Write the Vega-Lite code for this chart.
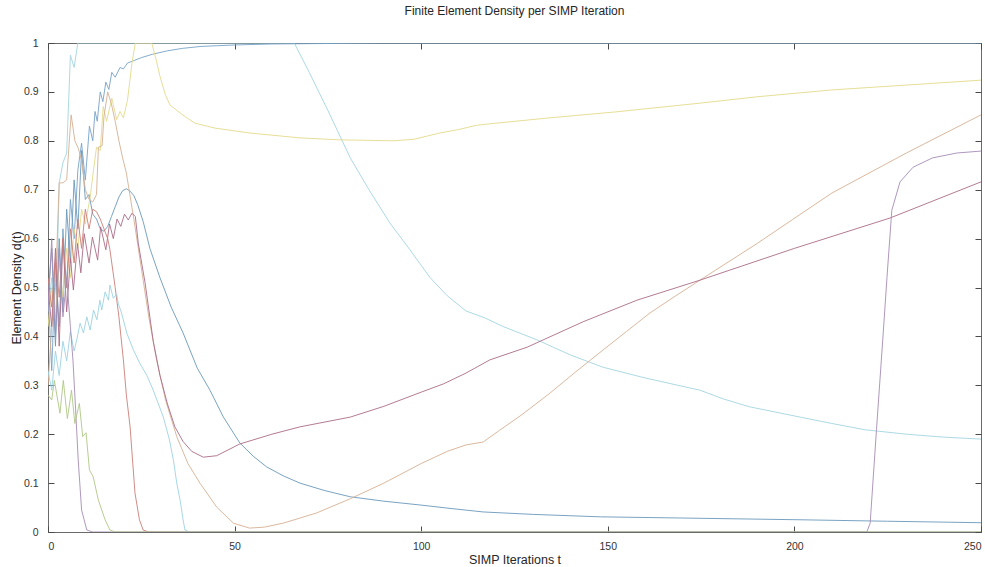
{
  "$schema": "https://vega.github.io/schema/vega-lite/v6.json",
  "width": 933,
  "height": 489,
  "autosize": "none",
  "padding": {"left": 48, "top": 43, "right": 4, "bottom": 35},
  "background": "white",
  "config": {
    "font": "Liberation Sans",
    "view": {"stroke": "#6a6a6a", "strokeWidth": 1},
    "axis": {
      "domain": false,
      "offset": -6,
      "ticks": true,
      "tickSize": 6,
      "tickWidth": 1,
      "tickColor": "#4a4a4a",
      "tickOpacity": 1,
      "zindex": 1,
      "labelColor": "#333333",
      "titleColor": "#262626",
      "labelFont": "Liberation Sans",
      "titleFont": "Liberation Sans",
      "labelFontSize": 10.5,
      "titleFontSize": 12.5,
      "titleFontWeight": "normal",
      "grid": false
    }
  },
  "title": {
    "text": "Finite Element Density per SIMP Iteration",
    "fontSize": 12,
    "fontWeight": "normal",
    "color": "#262626",
    "font": "Liberation Sans",
    "anchor": "middle",
    "offset": 20
  },
  "data": {
    "values": [
      {"e":"E1","t":0,"d":0.45},{"e":"E1","t":1,"d":0.52},{"e":"E1","t":2,"d":0.4},{"e":"E1","t":3,"d":0.714},{"e":"E1","t":4,"d":0.755},{"e":"E1","t":5,"d":0.775},{"e":"E1","t":6,"d":0.975},{"e":"E1","t":7,"d":0.95},{"e":"E1","t":8,"d":1.0},{"e":"E1","t":66,"d":1.0},{"e":"E1","t":70,"d":0.94},{"e":"E1","t":75,"d":0.862},{"e":"E1","t":81,"d":0.765},{"e":"E1","t":86,"d":0.7},{"e":"E1","t":91.6,"d":0.632},{"e":"E1","t":97,"d":0.577},{"e":"E1","t":102.4,"d":0.52},{"e":"E1","t":107,"d":0.483},{"e":"E1","t":112,"d":0.452},{"e":"E1","t":117,"d":0.438},{"e":"E1","t":122,"d":0.42},{"e":"E1","t":131,"d":0.393},{"e":"E1","t":140,"d":0.362},{"e":"E1","t":148.7,"d":0.337},{"e":"E1","t":160,"d":0.315},{"e":"E1","t":174.7,"d":0.29},{"e":"E1","t":181,"d":0.272},{"e":"E1","t":188,"d":0.256},{"e":"E1","t":201.5,"d":0.235},{"e":"E1","t":210,"d":0.222},{"e":"E1","t":219,"d":0.209},{"e":"E1","t":230,"d":0.2},{"e":"E1","t":240,"d":0.194},{"e":"E1","t":250,"d":0.19},

      {"e":"E2","t":0,"d":0.5},{"e":"E2","t":1,"d":0.33},{"e":"E2","t":2,"d":0.55},{"e":"E2","t":3,"d":0.42},{"e":"E2","t":4,"d":0.62},{"e":"E2","t":5,"d":0.5},{"e":"E2","t":6,"d":0.68},{"e":"E2","t":7,"d":0.6},{"e":"E2","t":8,"d":0.74},{"e":"E2","t":9,"d":0.795},{"e":"E2","t":10,"d":0.72},{"e":"E2","t":11.1,"d":0.83},{"e":"E2","t":12,"d":0.8},{"e":"E2","t":12.6,"d":0.86},{"e":"E2","t":13.2,"d":0.84},{"e":"E2","t":14,"d":0.9},{"e":"E2","t":14.7,"d":0.88},{"e":"E2","t":15.5,"d":0.92},{"e":"E2","t":16.3,"d":0.905},{"e":"E2","t":17.1,"d":0.94},{"e":"E2","t":18,"d":0.93},{"e":"E2","t":19.3,"d":0.95},{"e":"E2","t":20.2,"d":0.947},{"e":"E2","t":21.3,"d":0.959},{"e":"E2","t":23,"d":0.964},{"e":"E2","t":25,"d":0.97},{"e":"E2","t":28,"d":0.977},{"e":"E2","t":32,"d":0.984},{"e":"E2","t":36,"d":0.989},{"e":"E2","t":41,"d":0.993},{"e":"E2","t":50,"d":0.996},{"e":"E2","t":60,"d":0.998},{"e":"E2","t":75,"d":0.999},{"e":"E2","t":90,"d":1.0},{"e":"E2","t":250,"d":1.0},

      {"e":"E3","t":0,"d":0.48},{"e":"E3","t":1,"d":0.58},{"e":"E3","t":2,"d":0.38},{"e":"E3","t":3,"d":0.6},{"e":"E3","t":4,"d":0.45},{"e":"E3","t":5,"d":0.66},{"e":"E3","t":6,"d":0.55},{"e":"E3","t":7,"d":0.72},{"e":"E3","t":8,"d":0.62},{"e":"E3","t":9,"d":0.78},{"e":"E3","t":10,"d":0.68},{"e":"E3","t":11,"d":0.69},{"e":"E3","t":12,"d":0.65},{"e":"E3","t":13,"d":0.64},{"e":"E3","t":14,"d":0.62},{"e":"E3","t":15,"d":0.615},{"e":"E3","t":16,"d":0.625},{"e":"E3","t":17,"d":0.645},{"e":"E3","t":18,"d":0.665},{"e":"E3","t":19,"d":0.685},{"e":"E3","t":20,"d":0.698},{"e":"E3","t":21,"d":0.702},{"e":"E3","t":22,"d":0.697},{"e":"E3","t":23,"d":0.688},{"e":"E3","t":24,"d":0.67},{"e":"E3","t":25.5,"d":0.635},{"e":"E3","t":27.3,"d":0.58},{"e":"E3","t":30,"d":0.52},{"e":"E3","t":33,"d":0.46},{"e":"E3","t":36.2,"d":0.407},{"e":"E3","t":40,"d":0.335},{"e":"E3","t":43.4,"d":0.29},{"e":"E3","t":47,"d":0.235},{"e":"E3","t":51.4,"d":0.182},{"e":"E3","t":55,"d":0.155},{"e":"E3","t":58.6,"d":0.133},{"e":"E3","t":63,"d":0.115},{"e":"E3","t":67.5,"d":0.1},{"e":"E3","t":74,"d":0.085},{"e":"E3","t":81,"d":0.072},{"e":"E3","t":90,"d":0.063},{"e":"E3","t":100,"d":0.055},{"e":"E3","t":108,"d":0.048},{"e":"E3","t":116.6,"d":0.041},{"e":"E3","t":130,"d":0.036},{"e":"E3","t":148,"d":0.031},{"e":"E3","t":175,"d":0.028},{"e":"E3","t":201.5,"d":0.025},{"e":"E3","t":225,"d":0.022},{"e":"E3","t":250,"d":0.019},

      {"e":"E4","t":0,"d":0.42},{"e":"E4","t":1,"d":0.5},{"e":"E4","t":2,"d":0.44},{"e":"E4","t":3,"d":0.55},{"e":"E4","t":4,"d":0.48},{"e":"E4","t":5,"d":0.58},{"e":"E4","t":6,"d":0.52},{"e":"E4","t":7,"d":0.62},{"e":"E4","t":8,"d":0.58},{"e":"E4","t":9,"d":0.66},{"e":"E4","t":10,"d":0.63},{"e":"E4","t":11.3,"d":0.685},{"e":"E4","t":12.2,"d":0.74},{"e":"E4","t":13,"d":0.787},{"e":"E4","t":14,"d":0.78},{"e":"E4","t":14.8,"d":0.87},{"e":"E4","t":15.7,"d":0.84},{"e":"E4","t":17.1,"d":0.887},{"e":"E4","t":18.4,"d":0.843},{"e":"E4","t":19.3,"d":0.86},{"e":"E4","t":20.2,"d":0.847},{"e":"E4","t":21.3,"d":0.883},{"e":"E4","t":22.5,"d":0.959},{"e":"E4","t":23.4,"d":1.0},{"e":"E4","t":27.8,"d":1.0},{"e":"E4","t":29,"d":0.965},{"e":"E4","t":30,"d":0.932},{"e":"E4","t":31.5,"d":0.893},{"e":"E4","t":32.7,"d":0.873},{"e":"E4","t":35.4,"d":0.857},{"e":"E4","t":37,"d":0.848},{"e":"E4","t":39.4,"d":0.836},{"e":"E4","t":44.7,"d":0.826},{"e":"E4","t":54,"d":0.816},{"e":"E4","t":67.5,"d":0.806},{"e":"E4","t":78,"d":0.802},{"e":"E4","t":92.4,"d":0.8},{"e":"E4","t":98,"d":0.803},{"e":"E4","t":105,"d":0.816},{"e":"E4","t":110,"d":0.823},{"e":"E4","t":115,"d":0.832},{"e":"E4","t":120,"d":0.836},{"e":"E4","t":134.5,"d":0.847},{"e":"E4","t":152,"d":0.859},{"e":"E4","t":174.7,"d":0.877},{"e":"E4","t":190,"d":0.89},{"e":"E4","t":210,"d":0.904},{"e":"E4","t":230,"d":0.914},{"e":"E4","t":250,"d":0.924},

      {"e":"E5","t":0,"d":0.3},{"e":"E5","t":1,"d":0.42},{"e":"E5","t":2,"d":0.5},{"e":"E5","t":3,"d":0.714},{"e":"E5","t":4,"d":0.714},{"e":"E5","t":5,"d":0.72},{"e":"E5","t":6.2,"d":0.853},{"e":"E5","t":7.2,"d":0.8},{"e":"E5","t":8.1,"d":0.785},{"e":"E5","t":9,"d":0.76},{"e":"E5","t":10,"d":0.7},{"e":"E5","t":11,"d":0.68},{"e":"E5","t":12,"d":0.675},{"e":"E5","t":13,"d":0.69},{"e":"E5","t":13.5,"d":0.787},{"e":"E5","t":14.5,"d":0.79},{"e":"E5","t":15,"d":0.85},{"e":"E5","t":16,"d":0.9},{"e":"E5","t":17,"d":0.875},{"e":"E5","t":18,"d":0.84},{"e":"E5","t":19,"d":0.8},{"e":"E5","t":20,"d":0.765},{"e":"E5","t":21,"d":0.734},{"e":"E5","t":23,"d":0.64},{"e":"E5","t":25.5,"d":0.515},{"e":"E5","t":27,"d":0.44},{"e":"E5","t":29.1,"d":0.352},{"e":"E5","t":31.5,"d":0.27},{"e":"E5","t":34.5,"d":0.195},{"e":"E5","t":37.5,"d":0.14},{"e":"E5","t":40.7,"d":0.1},{"e":"E5","t":45.2,"d":0.051},{"e":"E5","t":49.7,"d":0.018},{"e":"E5","t":54,"d":0.008},{"e":"E5","t":58,"d":0.01},{"e":"E5","t":63,"d":0.018},{"e":"E5","t":72,"d":0.039},{"e":"E5","t":81,"d":0.068},{"e":"E5","t":90,"d":0.1},{"e":"E5","t":100,"d":0.14},{"e":"E5","t":107,"d":0.165},{"e":"E5","t":112,"d":0.178},{"e":"E5","t":116.6,"d":0.184},{"e":"E5","t":121,"d":0.208},{"e":"E5","t":127,"d":0.24},{"e":"E5","t":134.5,"d":0.284},{"e":"E5","t":141,"d":0.325},{"e":"E5","t":148.7,"d":0.372},{"e":"E5","t":155,"d":0.41},{"e":"E5","t":161.3,"d":0.448},{"e":"E5","t":168,"d":0.482},{"e":"E5","t":174.7,"d":0.515},{"e":"E5","t":190,"d":0.59},{"e":"E5","t":210,"d":0.693},{"e":"E5","t":230,"d":0.775},{"e":"E5","t":250,"d":0.853},

      {"e":"E6","t":0,"d":0.5},{"e":"E6","t":1,"d":0.42},{"e":"E6","t":2,"d":0.58},{"e":"E6","t":3,"d":0.38},{"e":"E6","t":4,"d":0.6},{"e":"E6","t":5,"d":0.45},{"e":"E6","t":6,"d":0.56},{"e":"E6","t":6.8,"d":0.495},{"e":"E6","t":7.9,"d":0.59},{"e":"E6","t":8.8,"d":0.53},{"e":"E6","t":9.7,"d":0.61},{"e":"E6","t":11,"d":0.55},{"e":"E6","t":11.9,"d":0.603},{"e":"E6","t":13.3,"d":0.556},{"e":"E6","t":14.1,"d":0.624},{"e":"E6","t":15.5,"d":0.577},{"e":"E6","t":16.5,"d":0.63},{"e":"E6","t":17.5,"d":0.6},{"e":"E6","t":18.5,"d":0.64},{"e":"E6","t":19.5,"d":0.625},{"e":"E6","t":20.5,"d":0.65},{"e":"E6","t":21.5,"d":0.638},{"e":"E6","t":22.5,"d":0.652},{"e":"E6","t":23.4,"d":0.645},{"e":"E6","t":24.2,"d":0.59},{"e":"E6","t":26,"d":0.51},{"e":"E6","t":28.2,"d":0.39},{"e":"E6","t":30,"d":0.32},{"e":"E6","t":32,"d":0.262},{"e":"E6","t":34,"d":0.215},{"e":"E6","t":36.2,"d":0.185},{"e":"E6","t":38.5,"d":0.165},{"e":"E6","t":41.6,"d":0.153},{"e":"E6","t":45.2,"d":0.156},{"e":"E6","t":51.4,"d":0.18},{"e":"E6","t":60,"d":0.2},{"e":"E6","t":67.5,"d":0.215},{"e":"E6","t":81,"d":0.235},{"e":"E6","t":90,"d":0.257},{"e":"E6","t":100,"d":0.286},{"e":"E6","t":106,"d":0.303},{"e":"E6","t":112,"d":0.325},{"e":"E6","t":118.4,"d":0.352},{"e":"E6","t":128.4,"d":0.378},{"e":"E6","t":143.4,"d":0.43},{"e":"E6","t":157.8,"d":0.474},{"e":"E6","t":174.7,"d":0.515},{"e":"E6","t":200,"d":0.58},{"e":"E6","t":225.6,"d":0.642},{"e":"E6","t":250,"d":0.716},

      {"e":"E7","t":0,"d":0.52},{"e":"E7","t":1,"d":0.46},{"e":"E7","t":2,"d":0.56},{"e":"E7","t":3,"d":0.48},{"e":"E7","t":4,"d":0.6},{"e":"E7","t":5,"d":0.5},{"e":"E7","t":6,"d":0.62},{"e":"E7","t":7,"d":0.55},{"e":"E7","t":8,"d":0.64},{"e":"E7","t":9,"d":0.58},{"e":"E7","t":10,"d":0.66},{"e":"E7","t":11,"d":0.62},{"e":"E7","t":12,"d":0.66},{"e":"E7","t":13,"d":0.655},{"e":"E7","t":14,"d":0.64},{"e":"E7","t":15,"d":0.62},{"e":"E7","t":16,"d":0.6},{"e":"E7","t":16.6,"d":0.577},{"e":"E7","t":18,"d":0.5},{"e":"E7","t":19,"d":0.44},{"e":"E7","t":20.2,"d":0.352},{"e":"E7","t":21,"d":0.28},{"e":"E7","t":22,"d":0.215},{"e":"E7","t":23.3,"d":0.08},{"e":"E7","t":24.5,"d":0.025},{"e":"E7","t":25.5,"d":0.004},{"e":"E7","t":27,"d":0},{"e":"E7","t":250,"d":0},

      {"e":"E8","t":0,"d":0.33},{"e":"E8","t":1,"d":0.29},{"e":"E8","t":2,"d":0.37},{"e":"E8","t":3,"d":0.32},{"e":"E8","t":4,"d":0.39},{"e":"E8","t":5,"d":0.35},{"e":"E8","t":6,"d":0.41},{"e":"E8","t":7,"d":0.37},{"e":"E8","t":7.7,"d":0.393},{"e":"E8","t":8.6,"d":0.427},{"e":"E8","t":9.5,"d":0.407},{"e":"E8","t":10.4,"d":0.44},{"e":"E8","t":11.3,"d":0.413},{"e":"E8","t":12.2,"d":0.454},{"e":"E8","t":13.1,"d":0.434},{"e":"E8","t":13.9,"d":0.474},{"e":"E8","t":14.4,"d":0.454},{"e":"E8","t":15.3,"d":0.491},{"e":"E8","t":16.2,"d":0.474},{"e":"E8","t":16.6,"d":0.505},{"e":"E8","t":17.5,"d":0.478},{"e":"E8","t":18.4,"d":0.487},{"e":"E8","t":18.8,"d":0.468},{"e":"E8","t":19.7,"d":0.448},{"e":"E8","t":21.1,"d":0.407},{"e":"E8","t":22.9,"d":0.372},{"e":"E8","t":24.6,"d":0.345},{"e":"E8","t":26.5,"d":0.32},{"e":"E8","t":28.2,"d":0.29},{"e":"E8","t":30.9,"d":0.235},{"e":"E8","t":32.5,"d":0.19},{"e":"E8","t":33.6,"d":0.147},{"e":"E8","t":34.5,"d":0.1},{"e":"E8","t":35.4,"d":0.065},{"e":"E8","t":36.2,"d":0.025},{"e":"E8","t":36.7,"d":0.004},{"e":"E8","t":38,"d":0},{"e":"E8","t":250,"d":0},

      {"e":"E9","t":0,"d":0.45},{"e":"E9","t":1,"d":0.6},{"e":"E9","t":2,"d":0.4},{"e":"E9","t":3,"d":0.58},{"e":"E9","t":4,"d":0.44},{"e":"E9","t":5,"d":0.52},{"e":"E9","t":6,"d":0.42},{"e":"E9","t":6.7,"d":0.35},{"e":"E9","t":7.4,"d":0.25},{"e":"E9","t":8.1,"d":0.147},{"e":"E9","t":9,"d":0.045},{"e":"E9","t":10.4,"d":0.004},{"e":"E9","t":12,"d":0},{"e":"E9","t":219.4,"d":0},{"e":"E9","t":220.3,"d":0.018},{"e":"E9","t":222,"d":0.21},{"e":"E9","t":223.8,"d":0.407},{"e":"E9","t":224.8,"d":0.52},{"e":"E9","t":226.1,"d":0.658},{"e":"E9","t":228.3,"d":0.716},{"e":"E9","t":231.8,"d":0.746},{"e":"E9","t":237,"d":0.765},{"e":"E9","t":243.5,"d":0.775},{"e":"E9","t":250,"d":0.779},

      {"e":"E10","t":0,"d":0.28},{"e":"E10","t":1,"d":0.27},{"e":"E10","t":1.7,"d":0.31},{"e":"E10","t":3.2,"d":0.243},{"e":"E10","t":4.1,"d":0.31},{"e":"E10","t":5.2,"d":0.232},{"e":"E10","t":6.3,"d":0.29},{"e":"E10","t":7.2,"d":0.222},{"e":"E10","t":8.4,"d":0.263},{"e":"E10","t":9.3,"d":0.195},{"e":"E10","t":10.2,"d":0.203},{"e":"E10","t":11.1,"d":0.127},{"e":"E10","t":12.1,"d":0.113},{"e":"E10","t":13.5,"d":0.065},{"e":"E10","t":15.3,"d":0.025},{"e":"E10","t":16.6,"d":0.004},{"e":"E10","t":18,"d":0},{"e":"E10","t":250,"d":0}
    ]
  },
  "resolve": {"axis": {"x": "independent", "y": "independent"}},
  "layer": [
    {
      "mark": {"type": "line", "strokeOpacity": 0},
      "encoding": {
        "x": {"field": "t", "type": "quantitative", "scale": {"domain": [0, 250], "nice": false},
              "axis": {"orient": "top", "labels": false, "title": null, "values": [0, 50, 100, 150, 200, 250]}},
        "y": {"field": "d", "type": "quantitative", "scale": {"domain": [0, 1], "nice": false},
              "axis": {"orient": "right", "labels": false, "title": null, "values": [0, 0.1, 0.2, 0.3, 0.4, 0.5, 0.6, 0.7, 0.8, 0.9, 1]}},
        "detail": {"field": "e"}
      }
    },
    {
      "mark": {"type": "line", "strokeWidth": 1, "clip": true, "opacity": 0.9},
      "encoding": {
        "x": {"field": "t", "type": "quantitative", "scale": {"domain": [0, 250], "nice": false},
              "axis": {"orient": "bottom", "title": "SIMP Iterations t", "format": "d", "labelPadding": 9, "titlePadding": 2,
                       "values": [0, 50, 100, 150, 200, 250]}},
        "y": {"field": "d", "type": "quantitative", "scale": {"domain": [0, 1], "nice": false},
              "axis": {"orient": "left", "title": "Element Density d(t)", "format": ".1~f", "labelPadding": 10, "titlePadding": 0,
                       "values": [0, 0.1, 0.2, 0.3, 0.4, 0.5, 0.6, 0.7, 0.8, 0.9, 1]}},
        "color": {
          "field": "e",
          "type": "nominal",
          "legend": null,
          "scale": {
            "domain": ["E1","E2","E3","E4","E5","E6","E7","E8","E9","E10"],
            "range": ["#a3d5e0","#77a3c8","#6a99bb","#e3da8c","#d6b093","#ab6d87","#cb8079","#9dd3e2","#a58db6","#afc886"]
          }
        },
        "order": {"field": "t", "type": "quantitative"}
      }
    }
  ]
}
